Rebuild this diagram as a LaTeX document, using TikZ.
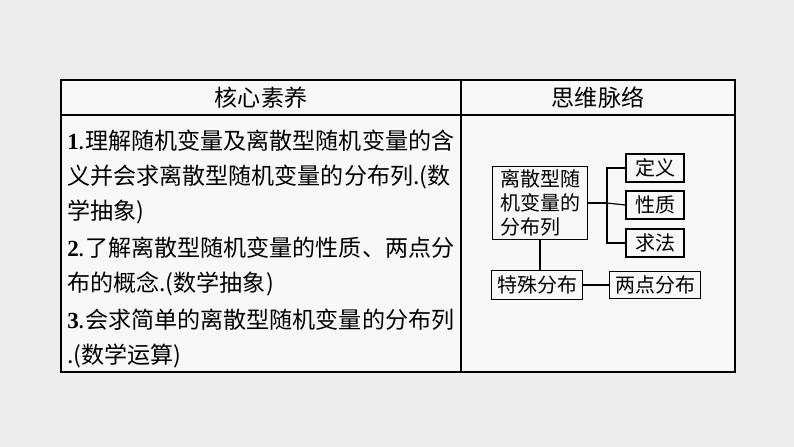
\documentclass[tikz,border=0pt]{standalone}
\usepackage{fontspec}
\setmainfont{Noto Sans CJK SC}
\newfontfamily\nf{Liberation Serif}
\begin{document}
\begin{tikzpicture}[x=0.75pt,y=-0.75pt,
  tl/.style={anchor=west,inner sep=0pt,font=\fontsize{17.3}{19}\selectfont},
  bx/.style={draw,line width=0.9pt,inner sep=2pt,font=\fontsize{15}{18}\selectfont},
  ln/.style={line width=0.9pt}]
\useasboundingbox (0,0) rectangle (794,447);
\fill[gray!14] (0,0) rectangle (794,447);
\fill[white!60!gray!14] (61,80) rectangle (735,372);
\draw[line width=0.9pt] (61,80) rectangle (735,372);
\draw[line width=0.9pt] (61,115) -- (735,115);
\draw[line width=0.9pt] (461,80) -- (461,372);
\node[tl,anchor=center] (h1) at (261,98) {核心素养};
\node[tl,anchor=center] (h2) at (598,98) {思维脉络};
\node[tl] (l1) at (67,141) {{\nf\bfseries 1}.理解随机变量及离散型随机变量的含};
\node[tl] (l2) at (67,177) {义并会求离散型随机变量的分布列.(数};
\node[tl] (l3) at (67,212) {学抽象)};
\node[tl] (l4) at (67,248) {{\nf\bfseries 2}.了解离散型随机变量的性质、两点分};
\node[tl] (l5) at (67,284) {布的概念.(数学抽象)};
\node[tl] (l6) at (67,320) {{\nf\bfseries 3}.会求简单的离散型随机变量的分布列};
\node[tl] (l7) at (67,356) {.(数学运算)};
\node[bx,align=left,minimum width=95*0.75pt,minimum height=73*0.75pt] (m) at (540,203) {离散型随\\机变量的\\分布列};
\node[bx,minimum width=58*0.75pt,minimum height=28*0.75pt] (a) at (655,168) {定义};
\node[bx,minimum width=58*0.75pt,minimum height=28*0.75pt] (b) at (655,205) {性质};
\node[bx,minimum width=58*0.75pt,minimum height=28*0.75pt] (c) at (655,243) {求法};
\node[bx,minimum width=91*0.75pt,minimum height=29*0.75pt] (d) at (537,285) {特殊分布};
\node[bx,minimum width=91*0.75pt,minimum height=27*0.75pt] (e) at (655,285) {两点分布};
\coordinate (j) at (607,203);
\draw[ln] (m.east) -- (j);
\draw[ln] (a.west) -| (j) |- (c.west);
\draw[ln] (j) -- (b.west);
\draw[ln] (m.south) -- (d.north -| m.south);
\draw[ln] (d) -- (e);
\end{tikzpicture}
\end{document}
